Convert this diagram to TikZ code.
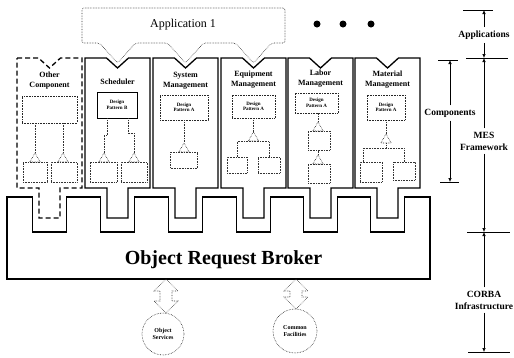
\documentclass[tikz,border=0pt]{standalone}
\usepackage{fontspec}
\setmainfont{Liberation Serif}
\usetikzlibrary{shapes.geometric,arrows.meta}

\newcommand{\mescomp}[2][]{\draw[comp,#1] (#2,58) -- ++(21.5,0) -- ++(11,10) -- ++(11,-10) -- ++(21.5,0) -- ++(0,130) -- ++(-22,0) -- ++(0,30) -- ++(-21,0) -- ++(0,-30) -- ++(-22,0) -- cycle;}
\newcommand{\blockarrow}[2]{\draw[link, line width=0.6pt] (#1) -- ++(12,12) -- ++(-6,0) -- ++(0,#2) -- ++(6,0) -- ++(-12,12) -- ++(-12,-12) -- ++(6,0) -- ++(0,-#2) -- ++(-6,0) -- cycle;}

\begin{document}
\begin{tikzpicture}[x=1pt, y=-1pt,
	comp/.style={line width=1.3pt, line join=miter},
	dp/.style={draw=black!85, densely dotted, line width=0.6pt, align=center, inner sep=0pt, font=\fontsize{5}{5.5}\selectfont\bfseries},
	part/.style={draw=black!80, densely dotted, line width=0.6pt, inner sep=0pt},
	tri/.style={regular polygon, regular polygon sides=3, draw=black!85, densely dotted, line width=0.6pt, inner sep=0pt, minimum size=12pt},
	link/.style={draw=black!80, densely dotted, line width=0.6pt},
	lbl/.style={align=center, font=\fontsize{8}{10}\selectfont\bfseries},
	svc/.style={circle, draw=black!85, densely dotted, line width=0.6pt, align=center, inner sep=0pt, font=\fontsize{6}{6.5}\selectfont\bfseries},
	layer/.style={align=center, font=\fontsize{9.5}{12}\selectfont\bfseries},
	dim/.style={-{Latex[length=4pt,width=3.5pt]}, line width=0.6pt},
	tickline/.style={line width=0.6pt}]
	\useasboundingbox (0,0) rectangle (514,357);

	\draw[link, rounded corners=2pt] (82,43) -- (82,8) -- (285,8) -- (285,43) -- (271.5,43) -- (253.5,63) -- (235.5,43) -- (203.5,43) -- (185.5,63) -- (167.5,43) -- (135.5,43) -- (117.5,63) -- (99.5,43) -- cycle;
	\node[font=\fontsize{12}{14}\selectfont] (app) at (183,25) {Application 1};
	\fill (317,24) circle (3.5) (343,24) circle (3.5) (371,24) circle (3.5);

	\mescomp[dashed, dash pattern=on 5pt off 3pt]{17}
	\mescomp{85}
	\mescomp{153}
	\mescomp{221}
	\mescomp{288}
	\mescomp{355}

	\draw[comp] (7,197) -- (32.5,197) -- ++(0,35) -- ++(34,0) -- ++(0,-35)
		-- (100.5,197) -- ++(0,35) -- ++(34,0) -- ++(0,-35)
		-- (168.5,197) -- ++(0,35) -- ++(34,0) -- ++(0,-35)
		-- (236.5,197) -- ++(0,35) -- ++(34,0) -- ++(0,-35)
		-- (303.5,197) -- ++(0,35) -- ++(34,0) -- ++(0,-35)
		-- (370.5,197) -- ++(0,35) -- ++(34,0) -- ++(0,-35)
		-- (430,197) -- (430,279) -- (7,279) -- cycle;
	\node[font=\fontsize{20}{24}\selectfont\bfseries, anchor=base] (orb) at (223.5,264) {Object Request Broker};

	% other component
	\node[lbl] (oth) at (49.5,81) {Other\\Component};
	\node[dp, minimum width=55pt, minimum height=27pt] (od) at (49.5,109.5) {};
	\node[tri] (ot1) at (35,159) {};
	\node[tri] (ot2) at (63,159) {};
	\node[part, minimum width=24pt, minimum height=20pt] (ob1) at (35,172) {};
	\node[part, minimum width=26pt, minimum height=20pt] (ob2) at (64,172) {};
	\draw[link] (ot1.corner 1) -- (ot1.corner 1 |- od.south);
	\draw[link] (ot2.corner 1) -- (ot2.corner 1 |- od.south);

	% scheduler
	\node[lbl] (sch) at (117.5,82) {Scheduler};
	\node[dp, draw=black, solid, minimum width=40pt, minimum height=26pt] (sd) at (117,105) {Design\\Pattern B};
	\node[tri] (st1) at (104,159) {};
	\node[tri] (st2) at (134,159) {};
	\node[part, minimum width=27pt, minimum height=20pt] (sb1) at (103.5,172) {};
	\node[part, minimum width=26pt, minimum height=20pt] (sb2) at (134,172) {};
	\draw[link] ([xshift=-10pt]sd.south) -- ++(0,17) -| (st1.corner 1);
	\draw[link] ([xshift=11pt]sd.south) -- ++(0,15) -| (st2.corner 1);

	% system management
	\node[lbl] (sys) at (185.5,81) {System\\Management};
	\node[dp, minimum width=48pt, minimum height=25pt] (yd) at (184,107.5) {Design\\Pattern A};
	\node[tri] (yt) at (184,149) {};
	\node[part, minimum width=27pt, minimum height=16pt] (yb) at (184,160) {};
	\draw[link] (yd.south) -- (yt.corner 1);

	% equipment management
	\node[lbl] (equ) at (253.5,80) {Equipment\\Management};
	\node[dp, minimum width=43pt, minimum height=23pt] (ed) at (253.5,106.5) {Design\\Pattern A};
	\node[tri] (et) at (253.5,138) {};
	\node[part, minimum width=20pt, minimum height=16pt] (eb1) at (237,165) {};
	\node[part, minimum width=22pt, minimum height=16pt] (eb2) at (269,165) {};
	\draw[link] (ed.south) -- (et.corner 1);
	\draw[link] (eb1.north) |- (et.side 2) -| (eb2.north);

	% labor management
	\node[lbl] (lab) at (320.5,79) {Labor\\Management};
	\node[dp, minimum width=43pt, minimum height=20pt] (ld) at (316.5,103) {Design\\Pattern A};
	\node[tri] (lt1) at (318,128) {};
	\node[part, minimum width=22pt, minimum height=19pt] (lb1) at (319,140.5) {};
	\node[tri] (lt2) at (318,161) {};
	\node[part, minimum width=22pt, minimum height=19pt] (lb2) at (319,173.5) {};
	\draw[link] (lt1.corner 1) -- (lt1.corner 1 |- ld.south);
	\draw[link] (lt2.corner 1) -- (lt2.corner 1 |- lb1.south);

	% material management
	\node[lbl] (mat) at (387.5,80) {Material\\Management};
	\node[dp, minimum width=38pt, minimum height=25pt] (md) at (386,107.5) {Design\\Pattern A};
	\node[tri] (mt) at (386,140) {};
	\node[part, minimum width=22pt, minimum height=20pt] (mb1) at (371,172) {};
	\node[part, minimum width=22pt, minimum height=18pt] (mb2) at (404,171) {};
	\draw[link] (md.south) -- (mt.corner 1);
	\draw[link] (mt.side 2) -- ++(0,5) coordinate (mj);
	\draw[link] ([xshift=-8pt]mb1.north) |- (mj) -| (mb2.north);

	% services below the broker
	\node[svc, minimum size=42pt] (os) at (163,334) {Object\\Services};
	\node[svc, minimum size=44pt] (cf) at (295,331) {Common\\Facilities};
	\coordinate (osa) at (166,279);
	\coordinate (cfa) at (296,279);
	\blockarrow{osa}{10}
	\blockarrow{cfa}{6}

	% layer scale
	\coordinate (apptop) at (484,10);
	\coordinate (appbot) at (484,58);
	\coordinate (corbatop) at (484,232);
	\coordinate (corbabot) at (484,352);
	\coordinate (comptop) at (450,60);
	\coordinate (compbot) at (450,182);
	\draw[tickline] ([xshift=-21pt]apptop) -- ([xshift=9pt]apptop);
	\draw[tickline] ([xshift=-18pt]appbot) -- ([xshift=24pt]appbot);
	\draw[tickline] ([xshift=-17pt]corbatop) -- ([xshift=26pt]corbatop);
	\draw[tickline] ([xshift=-16pt]corbabot) -- ([xshift=26pt]corbabot);
	\draw[tickline] ([xshift=-12pt]comptop) -- ([xshift=8pt]comptop);
	\draw[tickline] ([xshift=-10pt]compbot) -- ([xshift=9pt]compbot);
	\node[layer] (apps) at (484,35) {Applications};
	\node[layer] (mes) at (484,141) {MES\\Framework};
	\node[layer] (corba) at (484,300) {CORBA\\Infrastructure};
	\node[layer] (comps) at (450,113) {Components};
	\draw[dim] (apps) -- (apptop);
	\draw[dim] (apps) -- (appbot);
	\draw[dim] (mes) -- (appbot);
	\draw[dim] (mes) -- (corbatop);
	\draw[dim] (corba) -- (corbatop);
	\draw[dim] (corba) -- (corbabot);
	\draw[dim] (comps) -- (comptop);
	\draw[dim] (comps) -- (compbot);
\end{tikzpicture}
\end{document}
